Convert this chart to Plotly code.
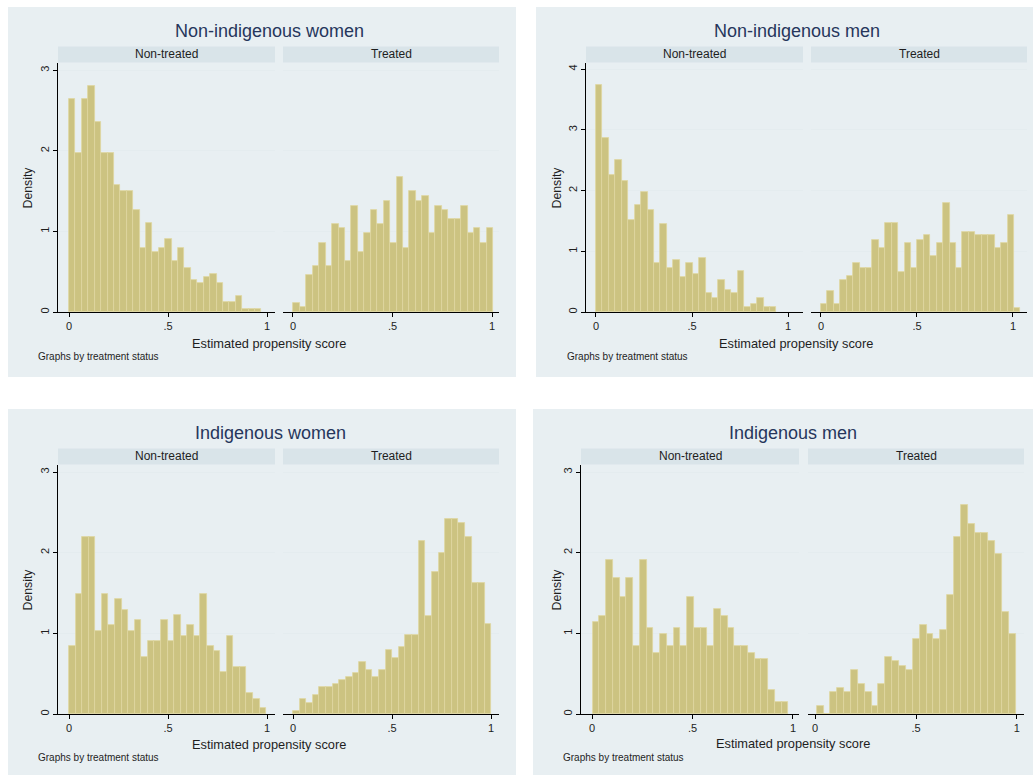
import plotly.graph_objects as go

W, H = 1033, 775

# ---------------- data (histogram densities) ----------------
group_titles = ["Non-indigenous women", "Non-indigenous men", "Indigenous women", "Indigenous men"]
status_labels = ["Non-treated", "Treated"]
x_title = "Estimated propensity score"
y_title = "Density"
note_text = "Graphs by treatment status"
x_tick_vals = [0, 0.5, 1]
x_tick_text = ["0", ".5", "1"]

niw_nontreated = [2.64, 1.97, 2.64, 2.80, 2.36, 1.97, 1.97, 1.58, 1.50, 1.50, 1.26, 0.79, 1.10, 0.75, 0.79,
                  0.90, 0.63, 0.79, 0.55, 0.40, 0.355, 0.43, 0.47, 0.355, 0.12, 0.12, 0.20, 0.04, 0.04, 0.04]
niw_treated = [0.11, 0.06, 0.46, 0.57, 0.86, 0.57, 1.09, 1.04, 0.63, 1.32, 0.75, 0.98, 1.27, 1.09, 1.38, 0.86,
               1.67, 0.80, 1.50, 1.38, 1.44, 0.98, 1.32, 1.27, 1.15, 1.15, 1.32, 0.98, 1.04, 0.86, 1.04]
nim_nontreated = [3.74, 2.86, 2.25, 2.51, 2.16, 1.51, 1.77, 1.98, 1.68, 0.80, 1.45, 0.72, 0.85, 0.58, 0.80,
                  0.63, 0.89, 0.32, 0.23, 0.53, 0.36, 0.31, 0.67, 0.09, 0.14, 0.23, 0.09, 0.09]
nim_treated = [0.14, 0.34, 0.14, 0.53, 0.60, 0.80, 0.73, 0.73, 1.19, 1.06, 1.46, 1.46, 0.66, 1.13, 0.73, 1.19,
               1.26, 0.93, 1.13, 1.79, 1.13, 0.73, 1.32, 1.32, 1.26, 1.26, 1.26, 1.06, 1.13, 1.59, 0.07]
iw_nontreated = [0.84, 1.49, 2.19, 2.19, 1.03, 1.49, 1.10, 1.42, 1.29, 1.03, 1.16, 0.71, 0.90, 0.90, 1.16,
                 0.90, 1.23, 0.97, 1.10, 0.97, 1.49, 0.84, 0.78, 0.52, 0.97, 0.58, 0.58, 0.26, 0.19, 0.07]
iw_treated = [0.04, 0.18, 0.14, 0.23, 0.33, 0.33, 0.37, 0.42, 0.46, 0.51, 0.65, 0.55, 0.46, 0.55, 0.79,
              0.69, 0.83, 0.98, 0.98, 2.14, 1.21, 1.76, 2.00, 2.42, 2.42, 2.37, 2.19, 1.62, 1.62, 1.11]
im_nontreated = [1.14, 1.22, 1.91, 1.68, 1.45, 1.68, 0.84, 1.91, 1.07, 0.76, 0.99, 0.84, 1.07, 0.84, 1.45,
                 1.07, 1.07, 0.84, 1.30, 1.22, 1.07, 0.84, 0.84, 0.76, 0.68, 0.68, 0.30, 0.15, 0.15]
im_treated = [0.10, 0.0, 0.27, 0.32, 0.27, 0.55, 0.37, 0.27, 0.10, 0.37, 0.71, 0.66, 0.60, 0.54, 0.93,
              1.10, 0.99, 0.93, 1.04, 1.48, 2.20, 2.59, 2.35, 2.24, 2.24, 2.15, 1.98, 1.26, 0.99]

# histogram bin starts and widths (propensity score units)
bin_start = [[0.0, 0.002], [0.0, 0.0], [0.0, 0.0], [0.003, 0.008]]
bin_width = [[0.0324, 0.0324], [0.03355, 0.0335], [0.0332, 0.0334], [0.0336, 0.034]]
densities = [[niw_nontreated, niw_treated], [nim_nontreated, nim_treated],
             [iw_nontreated, iw_treated], [im_nontreated, im_treated]]
y_max_tick = [3, 4, 3, 3]

# ---------------- layout geometry (pixels) ----------------
geo = [
    dict(bg=(8, 7, 516, 377), title=(269, 31), plots=[(58, 275), (283, 499)], ytop=63, ybot=312,
         xr=[[-0.0556, 1.0404], [-0.050, 1.035]], ytopv=3.09, xt=(269, 343), note=(36, 356), dens=27),
    dict(bg=(536, 7, 1033, 377), title=(797, 31), plots=[(586, 803), (811, 1027)], ytop=63, ybot=312,
         xr=[[-0.052, 1.078], [-0.052, 1.073]], ytopv=4.1, xt=(796, 343), note=(565, 356), dens=556),
    dict(bg=(8, 409, 516, 775), title=(270, 433), plots=[(58, 275), (283, 499)], ytop=465, ybot=714,
         xr=[[-0.0556, 1.0404], [-0.0505, 1.040]], ytopv=3.087, xt=(269, 744), note=(36, 757), dens=27),
    dict(bg=(533, 409, 1033, 775), title=(793, 433), plots=[(581, 799), (808, 1024)], ytop=465, ybot=714,
         xr=[[-0.055, 1.030], [-0.035, 1.035]], ytopv=3.087, xt=(793, 743), note=(561, 757), dens=556),
]

FONT = "Liberation Sans, Arial, Helvetica, sans-serif"
PANEL_BG = "rgb(232,239,242)"
STRIP_BG = "rgb(217,228,233)"
GRID = "rgb(228,236,239)"
FILL = "rgb(204,195,129)"
EDGE = "rgb(222,215,160)"
TITLE_C = "#26365c"
TEXT_C = "#1e1e1e"


def fx(x):
    return x / W


def fy(y):
    return 1 - y / H


fig = go.Figure()
shapes, annotations = [], []
layout_axes = {}

k = 0
for g in range(4):
    G = geo[g]
    x0, y0, x1, y1 = G["bg"]
    shapes.append(dict(type="rect", xref="paper", yref="paper", x0=fx(x0), x1=fx(x1), y0=fy(y1), y1=fy(y0),
                       fillcolor=PANEL_BG, line=dict(width=0), layer="below"))
    annotations.append(dict(text=group_titles[g], x=fx(G["title"][0]), y=fy(G["title"][1]), xref="paper",
                            yref="paper", showarrow=False, xanchor="center", yanchor="middle",
                            font=dict(family=FONT, size=18, color=TITLE_C)))
    annotations.append(dict(text=x_title, x=fx(G["xt"][0]), y=fy(G["xt"][1]), xref="paper", yref="paper",
                            showarrow=False, xanchor="center", yanchor="middle",
                            font=dict(family=FONT, size=12.8, color=TEXT_C)))
    annotations.append(dict(text=note_text, x=fx(G["note"][0]), y=fy(G["note"][1]), xref="paper", yref="paper",
                            showarrow=False, xanchor="left", yanchor="middle",
                            font=dict(family=FONT, size=10, color=TEXT_C)))
    annotations.append(dict(text=y_title, x=fx(G["dens"]), y=fy((G["ytop"] + G["ybot"]) / 2), xref="paper",
                            yref="paper", showarrow=False, xanchor="center", yanchor="middle", textangle=-90,
                            font=dict(family=FONT, size=12.3, color=TEXT_C)))
    for s in range(2):
        k += 1
        px0, px1 = G["plots"][s]
        # strip header
        shapes.append(dict(type="rect", xref="paper", yref="paper", x0=fx(px0), x1=fx(px1),
                           y0=fy(G["ytop"] - 0.5), y1=fy(G["ytop"] - 16.5),
                           fillcolor=STRIP_BG, line=dict(width=0), layer="below"))
        annotations.append(dict(text=status_labels[s], x=fx((px0 + px1) / 2), y=fy(G["ytop"] - 8.5),
                                xref="paper", yref="paper", showarrow=False, xanchor="center",
                                yanchor="middle", font=dict(family=FONT, size=12, color=TEXT_C)))
        vals = densities[g][s]
        w = bin_width[g][s]
        st = bin_start[g][s]
        centers = [st + w * (i + 0.5) for i in range(len(vals))]
        xa = "x" if k == 1 else f"x{k}"
        ya = "y" if k == 1 else f"y{k}"
        fig.add_trace(go.Bar(x=centers, y=vals, width=w, xaxis=xa, yaxis=ya, showlegend=False,
                             marker=dict(color=FILL, line=dict(color=EDGE, width=0.8)),
                             hoverinfo="x+y"))
        xkey = "xaxis" if k == 1 else f"xaxis{k}"
        ykey = "yaxis" if k == 1 else f"yaxis{k}"
        layout_axes[xkey] = dict(domain=[fx(px0), fx(px1)], anchor=ya, range=G["xr"][s],
                                 tickmode="array", tickvals=x_tick_vals, ticktext=x_tick_text,
                                 ticks="outside", ticklen=4, tickwidth=1, tickcolor="black",
                                 showline=True, linecolor="black", linewidth=1, showgrid=False,
                                 zeroline=False, tickfont=dict(family=FONT, size=11, color=TEXT_C))
        ydict = dict(domain=[fy(G["ybot"]), fy(G["ytop"])], anchor=xa, range=[0, G["ytopv"]],
                     tickmode="array", tickvals=list(range(0, y_max_tick[g] + 1)),
                     showgrid=True, gridcolor=GRID, gridwidth=1, zeroline=False)
        if s == 0:
            ydict.update(ticks="outside", ticklen=4, tickwidth=1, tickcolor="black", showline=True,
                         linecolor="black", linewidth=1, tickangle=-90, showticklabels=True,
                         tickfont=dict(family=FONT, size=11, color=TEXT_C))
        else:
            ydict.update(ticks="", showline=False, showticklabels=False)
        layout_axes[ykey] = ydict

fig.update_layout(width=W, height=H, margin=dict(l=0, r=0, t=0, b=0), paper_bgcolor="white",
                  plot_bgcolor="white", shapes=shapes, annotations=annotations, bargap=0,
                  font=dict(family=FONT), **layout_axes)

fig.write_html("out.html", config={"displayModeBar": False},
               post_script="document.body.style.margin='0px';document.body.style.overflow='hidden';")

# make sure the page itself has no default body margin
with open("out.html", "r", encoding="utf-8") as f:
    html = f.read()
html = html.replace("<head>", "<head><style>html,body{margin:0;padding:0;overflow:hidden;}</style>", 1)
with open("out.html", "w", encoding="utf-8") as f:
    f.write(html)
